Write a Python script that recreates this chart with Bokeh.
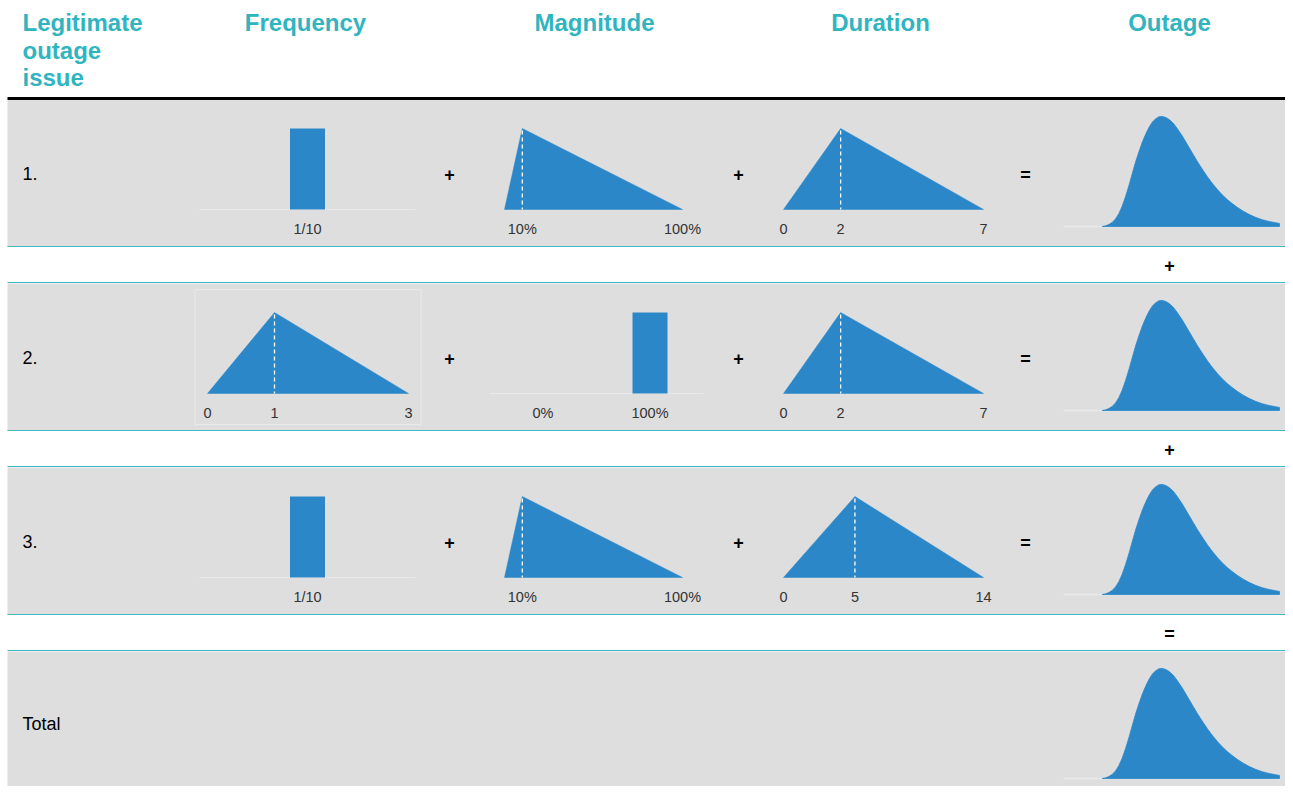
import numpy as np
from bokeh.plotting import figure
from bokeh.models import Range1d, ColumnDataSource
from bokeh.core.properties import value
from bokeh.embed import file_html
from bokeh.resources import INLINE

# ------------------------------------------------------------------ data
header_issue = ["Legitimate", "outage", "issue"]
headers = ["Frequency", "Magnitude", "Duration", "Outage"]
issue_labels = ["1.", "2.", "3."]
total_label = "Total"

freq_point_categories = ["1/10"]          # issues 1 and 3
freq_point_values = [1]
freq_triangle = [0, 1, 3]                 # min, mode, max (issue 2)
freq_triangle_ticks = [0, 1, 3]

mag_triangle = [0, 10, 100]               # % (issues 1 and 3)
mag_triangle_ticks = [10, 100]
mag_point_categories = ["0%", "100%"]     # issue 2
mag_point_values = [0, 1]

dur_triangle_1 = [0, 2, 7]
dur_triangle_2 = [0, 2, 7]
dur_triangle_3 = [0, 5, 14]

outage_days = [10.74, 11.67, 12.59, 13.52, 14.44, 15.37, 16.30, 17.22, 18.15, 19.07,
               20.0, 20.93, 21.85, 22.78, 23.70, 24.63, 25.56, 26.48, 27.13, 27.87,
               28.80, 29.72, 30.65, 31.57, 32.96, 34.35, 35.74, 37.13, 38.52, 39.91,
               41.30, 42.69, 44.07, 45.46, 46.85, 48.24, 49.63, 51.48, 53.33, 55.19,
               57.04, 58.89, 60.0]
outage_density = [0, 0.6, 1.8, 3.7, 6.8, 11.7, 18.5, 27.1, 36.9, 47.7,
                  58.5, 67.7, 76.3, 83.7, 89.8, 94.8, 97.8, 99.7, 100, 99.7,
                  98.5, 96.3, 93.2, 89.2, 82.5, 74.8, 67.1, 59.4, 52.3, 45.5,
                  39.4, 33.8, 28.9, 24.6, 20.9, 17.5, 14.5, 11.1, 8.3, 6.2,
                  4.6, 3.4, 2.8]
outage_axis = [0, 60]

row_ops = ["+", "+", "="]                  # between rows, outage column

# ------------------------------------------------------------------ style / layout
BLUE = "#2B87C8"
GRAY = "#DEDEDE"
CYAN = "#30B5C0"
LINE_CYAN = "#3BBAC5"
AXIS_LIGHT = "#E9E9E9"
TICK_COLOR = "#333333"
FONT = value("Liberation Sans")

ROW_TOPS = [99, 283, 467]
TOTAL_TOP = 651
ROW_H = 147

FREQ_TRI_PX = (207, 408)
FREQ_BAR_PX = (199, 415)
MAG_TRI_PX = (504, 682)
MAG_BAR_PX = (489, 703)
DUR_TRI_PX = (783, 983)
OUT_PX = (1063, 1279)
BAR_W = 35
OP_X = [449, 738, 1025]
COL_CENTERS = [305, 594, 880, 1169]
HEADER_Y = [22, 50, 77]

TOP_OFF, BASE_OFF, LABEL_OFF = 29, 110, 129
OUT_PEAK_OFF, OUT_BASE_OFF = 17, 127

p = figure(width=1285, height=786, x_range=Range1d(0, 1285), y_range=Range1d(786, 0),
           output_backend="svg", toolbar_location=None, min_border=0)
p.axis.visible = False
p.grid.visible = False
p.outline_line_color = None
p.background_fill_color = "white"
p.border_fill_color = "white"


def lin(v, d0, d1, p0, p1):
    return p0 + (np.asarray(v, dtype=float) - d0) * (p1 - p0) / (d1 - d0)


def label(xs, ys, texts, size, color="black", style="normal", align="center", baseline="middle"):
    p.text(x=list(xs), y=list(ys), text=list(texts), text_font=FONT,
           text_font_size=value(size), text_font_style=value(style),
           text_color=color, text_align=value(align), text_baseline=value(baseline))


def triangle(tri, ticks, px, row_top, fmt="{}"):
    lo, hi = tri[0], tri[2]
    xs = lin(tri, lo, hi, *px)
    base = row_top + BASE_OFF
    top = row_top + TOP_OFF
    p.patch(x=list(xs), y=[base, top, base], fill_color=BLUE, line_color=BLUE, line_width=0.5)
    p.segment(x0=[xs[1]], y0=[top + 2], x1=[xs[1]], y1=[base], line_color="white",
              line_width=1.3, line_dash="4 3")
    tx = lin(ticks, lo, hi, *px)
    label(tx, [row_top + LABEL_OFF] * len(ticks), [fmt.format(t) for t in ticks], "14.5px", TICK_COLOR)


def bars(cats, vals, px, row_top):
    n = len(cats)
    band = (px[1] - px[0]) / n
    centers = [px[0] + (i + 0.5) * band for i in range(n)]
    base = row_top + BASE_OFF
    top = row_top + TOP_OFF
    p.segment(x0=[px[0]], y0=[base], x1=[px[1]], y1=[base], line_color=AXIS_LIGHT, line_width=1.2)
    src = ColumnDataSource(dict(x=centers, top=[base - v * (base - top) for v in vals]))
    p.vbar(x="x", top="top", bottom=base, width=BAR_W, source=src, fill_color=BLUE, line_color=None)
    label(centers, [row_top + LABEL_OFF] * n, cats, "14.5px", TICK_COLOR)


def outage(row_top):
    base = row_top + OUT_BASE_OFF
    peak = row_top + OUT_PEAK_OFF
    xs = lin(outage_days, outage_axis[0], outage_axis[1], *OUT_PX)
    ys = [base - d / 100.0 * (base - peak) for d in outage_density]
    p.segment(x0=[OUT_PX[0]], y0=[base], x1=[OUT_PX[1]], y1=[base], line_color=AXIS_LIGHT, line_width=1.5)
    p.patch(x=list(xs) + [xs[-1], xs[0]], y=ys + [base, base], fill_color=BLUE,
            line_color=BLUE, line_width=0.8, line_join="round")


# ------------------------------------------------------------------ backgrounds / rules
all_tops = ROW_TOPS + [TOTAL_TOP]
p.quad(left=[7] * 4, right=[1293] * 4, top=all_tops, bottom=[t + ROW_H for t in ROW_TOPS] + [800],
       fill_color=GRAY, line_color=None)
p.quad(left=[7], right=[1293], top=[96.5], bottom=[99.5], fill_color="black", line_color=None)
rule_ys = []
for t in ROW_TOPS:
    rule_ys += [t + ROW_H, t + ROW_H + 36]
p.segment(x0=[7] * len(rule_ys), y0=rule_ys, x1=[1293] * len(rule_ys), y1=rule_ys,
          line_color=LINE_CYAN, line_width=1.2)

# ------------------------------------------------------------------ header
label([22] * 3, HEADER_Y, header_issue, "24px", CYAN, "bold", "left", "middle")
label(COL_CENTERS, [HEADER_Y[0]] * 4, headers, "24px", CYAN, "bold", "center", "middle")

# ------------------------------------------------------------------ rows
label([22] * 3, [t + 74 for t in ROW_TOPS], issue_labels, "18px", "black", "normal", "left", "middle")
label([22], [TOTAL_TOP + 72], [total_label], "18px", "black", "normal", "left", "middle")

# issue 1
t = ROW_TOPS[0]
bars(freq_point_categories, freq_point_values, FREQ_BAR_PX, t)
triangle(mag_triangle, mag_triangle_ticks, MAG_TRI_PX, t, "{}%")
triangle(dur_triangle_1, dur_triangle_1, DUR_TRI_PX, t)
outage(t)

# issue 2
t = ROW_TOPS[1]
p.quad(left=[194.5], right=[420.5], top=[t + 6], bottom=[t + 141], fill_color=None,
       line_color=AXIS_LIGHT, line_width=1)
triangle(freq_triangle, freq_triangle_ticks, FREQ_TRI_PX, t)
bars(mag_point_categories, mag_point_values, MAG_BAR_PX, t)
triangle(dur_triangle_2, dur_triangle_2, DUR_TRI_PX, t)
outage(t)

# issue 3
t = ROW_TOPS[2]
bars(freq_point_categories, freq_point_values, FREQ_BAR_PX, t)
triangle(mag_triangle, mag_triangle_ticks, MAG_TRI_PX, t, "{}%")
triangle(dur_triangle_3, dur_triangle_3, DUR_TRI_PX, t)
outage(t)

# total
outage(TOTAL_TOP)

# operators
for t in ROW_TOPS:
    label(OP_X, [t + 75] * 3, ["+", "+", "="], "18px", "black", "bold")
label([COL_CENTERS[3]] * 3, [t + ROW_H + 19 for t in ROW_TOPS], row_ops, "18px", "black", "bold")

open("out.html", "w").write(file_html(p, INLINE))
